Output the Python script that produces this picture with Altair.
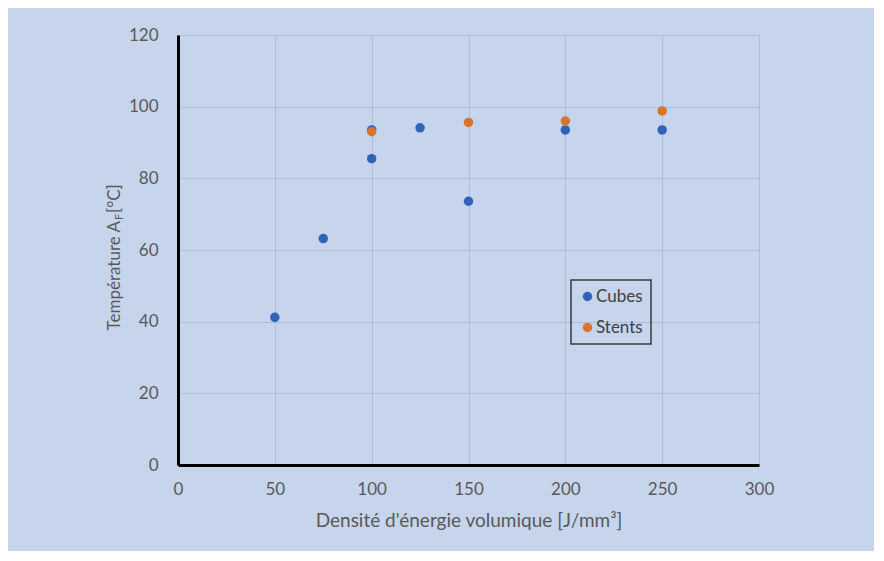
import altair as alt
import pandas as pd

# Data
cubes_x = [50, 75, 100, 100, 125, 150, 200, 250]
cubes_y = [41.2, 63.2, 85.5, 93.5, 94.1, 73.6, 93.5, 93.5]
stents_x = [100, 150, 200, 250]
stents_y = [93.0, 95.6, 96.0, 98.8]

series_names = ["Cubes", "Stents"]
series_colors = ["#2f63b9", "#d9742f"]

x_ticks = [0, 50, 100, 150, 200, 250, 300]
y_ticks = [0, 20, 40, 60, 80, 100, 120]

x_title = "Densité d'énergie volumique [J/mm³]"
y_title_parts = ["Température A", "F", " [°C]"]

df = pd.DataFrame(
    {
        "x": cubes_x + stents_x,
        "y": cubes_y + stents_y,
        "series": ["Cubes"] * len(cubes_x) + ["Stents"] * len(stents_x),
    }
)

FONT = "Lato"
LABEL = "#595959"
BG = "#c6d5ec"
GRID = "#aebdd5"

points = (
    alt.Chart(df)
    .mark_circle(size=90, opacity=1)
    .encode(
        x=alt.X(
            "x:Q",
            scale=alt.Scale(domain=[0, 300], nice=False),
            axis=alt.Axis(
                values=x_ticks,
                title=x_title,
                titleY=55,
                titleBaseline="middle",
                titleFontSize=19,
                titleFontWeight="normal",
                titleColor=LABEL,
                titleFont=FONT,
                labelPadding=16,
                labelFontSize=17,
                labelColor=LABEL,
                labelFont=FONT,
                labelFlush=False,
                ticks=False,
                domainColor="#000000",
                domainWidth=3,
                gridColor=GRID,
                gridWidth=1,
            ),
        ),
        y=alt.Y(
            "y:Q",
            scale=alt.Scale(domain=[0, 120], nice=False),
            axis=alt.Axis(
                values=y_ticks,
                title=None,
                labelPadding=20,
                labelFontSize=17,
                labelColor=LABEL,
                labelFont=FONT,
                labelFlush=False,
                ticks=False,
                domainColor="#000000",
                domainWidth=3,
                gridColor=GRID,
                gridWidth=1,
            ),
        ),
        color=alt.Color(
            "series:N",
            scale=alt.Scale(domain=series_names, range=series_colors),
            legend=alt.Legend(
                title=None,
                orient="none",
                legendX=393,
                legendY=245,
                direction="vertical",
                padding=8,
                labelFontSize=17,
                labelColor="#404040",
                labelFont=FONT,
                labelOffset=0,
                symbolType="circle",
                symbolSize=90,
                symbolStrokeWidth=0,
                symbolOpacity=1,
            ),
        ),
        order=alt.Order("series:N"),
    )
)

yt1 = (
    alt.Chart(pd.DataFrame({"t": [y_title_parts[0]]}))
    .mark_text(angle=270, align="right", baseline="middle", fontSize=17, font=FONT, color=LABEL)
    .encode(text="t:N", x=alt.value(-63), y=alt.value(186))
)
yt2 = (
    alt.Chart(pd.DataFrame({"t": [y_title_parts[1]]}))
    .mark_text(angle=270, align="left", baseline="middle", fontSize=11, font=FONT, color=LABEL)
    .encode(text="t:N", x=alt.value(-58), y=alt.value(185))
)
yt3 = (
    alt.Chart(pd.DataFrame({"t": [y_title_parts[2]]}))
    .mark_text(angle=270, align="left", baseline="middle", fontSize=17, font=FONT, color=LABEL)
    .encode(text="t:N", x=alt.value(-63), y=alt.value(178))
)

chart = (
    alt.layer(points, yt1, yt2, yt3)
    .properties(
        width=581,
        height=430,
        background=BG,
        autosize=alt.AutoSizeParams(type="none"),
        padding={"left": 170, "top": 27, "right": 115, "bottom": 86},
    )
    .configure_view(strokeWidth=0)
    .configure_legend(strokeColor="#3a3a3a", strokeWidth=1.5, rowPadding=13)
)

chart.save("out.html", embed_options={"renderer": "svg", "actions": False})
